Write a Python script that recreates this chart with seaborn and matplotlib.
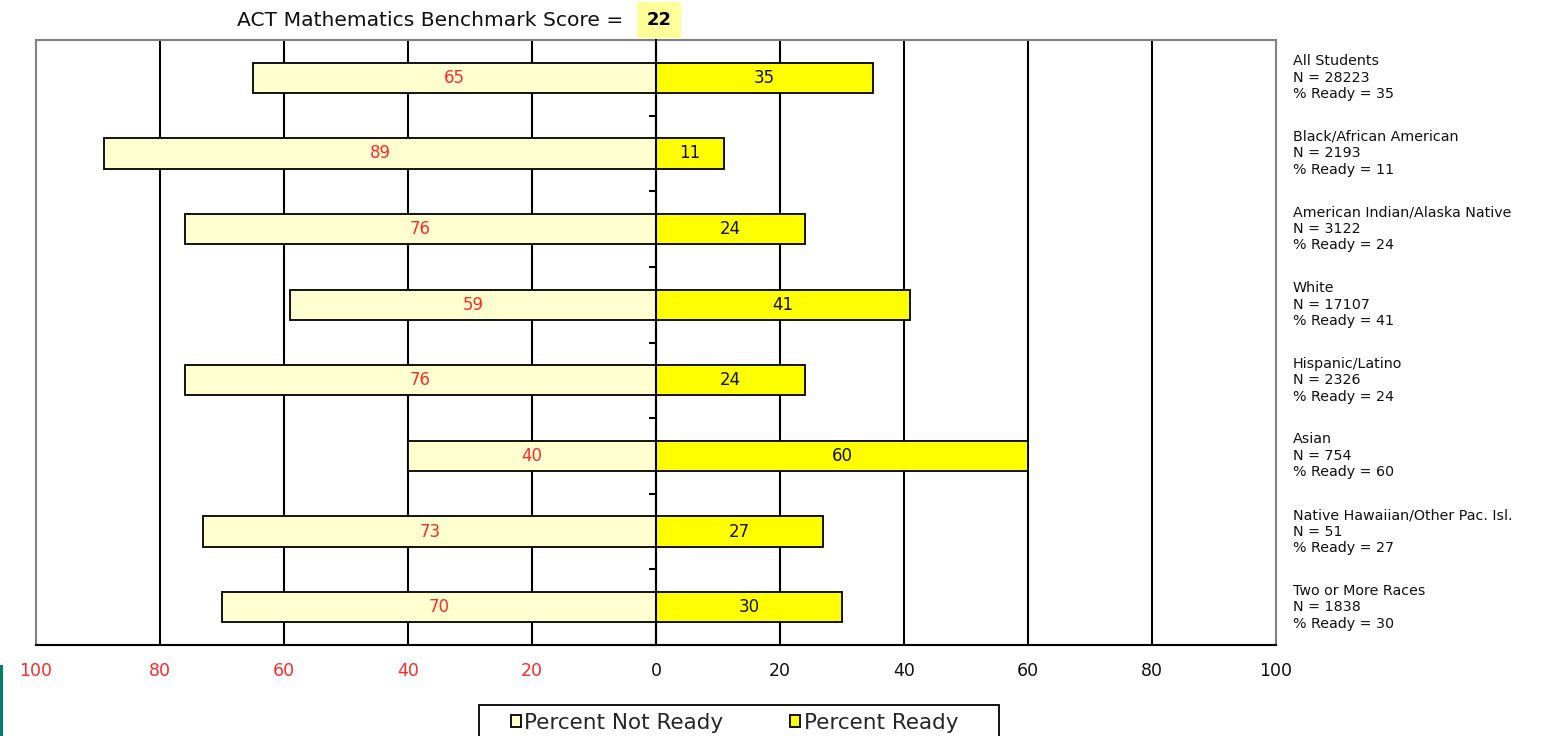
import numpy as np
import pandas as pd
import matplotlib
matplotlib.use("Agg")
import matplotlib.pyplot as plt
from matplotlib.patches import Rectangle, Patch
import seaborn as sns

groups = ["All Students", "Black/African American", "American Indian/Alaska Native",
          "White", "Hispanic/Latino", "Asian", "Native Hawaiian/Other Pac. Isl.",
          "Two or More Races"]
not_ready = [65, 89, 76, 59, 76, 40, 73, 70]
ready = [35, 11, 24, 41, 24, 60, 27, 30]
counts = [28223, 2193, 3122, 17107, 2326, 754, 51, 1838]
series_names = ["Percent Not Ready", "Percent Ready"]
benchmark = 22
x_ticks = [-100, -80, -60, -40, -20, 0, 20, 40, 60, 80, 100]

sns.set_style("white")
plt.rcParams["font.family"] = ["DejaVu Sans"]

df = pd.DataFrame({
    "group": groups * 2,
    "value": [-v for v in not_ready] + list(ready),
    "series": [series_names[0]] * len(groups) + [series_names[1]] * len(groups),
})

colors = {series_names[0]: "#FFFFCF", series_names[1]: "#FFFF00"}
red = "#FF2A2A"

fig = plt.figure(figsize=(15.62, 7.36), dpi=100)
ax = fig.add_axes([36 / 1562, 1 - 645 / 736, (1276 - 36) / 1562, (645 - 40) / 736])

sns.barplot(data=df, x="value", y="group", hue="series", orient="h", dodge=False,
            width=0.4, palette=colors, saturation=1, edgecolor="black", linewidth=1.3,
            legend=False, ax=ax)

ax.set_xlim(-100, 100)
ax.set_ylim(len(groups) - 0.5, -0.5)
ax.set_xlabel("")
ax.set_ylabel("")

# x axis
ax.set_xticks(x_ticks)
ax.set_xticklabels([str(abs(t)) for t in x_ticks], fontsize=12.5)
for t, lab in zip(x_ticks, ax.get_xticklabels()):
    lab.set_color(red if t < 0 else "#111111")
ax.tick_params(axis="x", direction="out", length=6, width=1.5, color="black", pad=6)

# vertical grid lines
ax.xaxis.grid(True, color="black", linewidth=1.5)
ax.set_axisbelow(True)
gl = ax.get_xgridlines()
gl[0].set_visible(False)
gl[-1].set_visible(False)

# center axis with ticks between categories
ax.spines["left"].set_position(("data", 0))
ax.spines["left"].set_color("black")
ax.spines["left"].set_linewidth(1.5)
ax.set_yticks(np.arange(-0.5, len(groups), 1.0))
ax.set_yticklabels([])
ax.tick_params(axis="y", direction="out", length=5, width=1.5, color="black", left=True)

ax.spines["bottom"].set_color("black")
ax.spines["bottom"].set_linewidth(1.5)
ax.spines["top"].set_visible(False)
ax.spines["right"].set_visible(False)
ax.add_patch(Rectangle((0, 0), 1, 1, transform=ax.transAxes, fill=False,
                       edgecolor="#808080", linewidth=1.5, clip_on=False, zorder=0.6))

# bar labels
ax.bar_label(ax.containers[0], labels=[str(v) for v in not_ready], label_type="center",
             color=red, fontsize=12)
ax.bar_label(ax.containers[1], labels=[str(v) for v in ready], label_type="center",
             color="#111111", fontsize=12)

# right-side group labels
trans = matplotlib.transforms.blended_transform_factory(ax.transAxes, ax.transData)
for i, (g, n, r) in enumerate(zip(groups, counts, ready)):
    ax.text(1.0137, i - 0.31, f"{g}\nN = {n}\n% Ready = {r}", transform=trans,
            ha="left", va="top", fontsize=10.3, linespacing=1.22, color="#111111")

# title
fig.text(237 / 1562, 1 - 20 / 736, "ACT Mathematics Benchmark Score =", ha="left",
         va="center", fontsize=14.6, color="#111111")
fig.text(659 / 1562, 1 - 20 / 736, str(benchmark), ha="center", va="center",
         fontsize=13, fontweight="bold", color="black",
         bbox=dict(boxstyle="square,pad=0.5", facecolor="#FFFF99", edgecolor="none"))

# legend
handles = [Patch(facecolor=colors[s], edgecolor="black", linewidth=1.3) for s in series_names]
leg = fig.legend(handles, series_names, ncol=2, loc="upper left",
                 bbox_to_anchor=(511 / 1562, 1 - 713 / 736), frameon=False,
                 fontsize=15.5, handlelength=0.47, handleheight=0.47,
                 handletextpad=0.15, columnspacing=3.1, borderpad=0, borderaxespad=0)
fig.add_artist(Rectangle((479 / 1562, -0.02), (999 - 479) / 1562, 0.02 + 31 / 736,
                         transform=fig.transFigure, fill=False, edgecolor="black",
                         linewidth=1.3))

# decorative left edge line
fig.add_artist(Rectangle((0, 0), 3 / 1562, 71 / 736, transform=fig.transFigure,
                         facecolor="#008066", edgecolor="none"))

fig.savefig("out.png", dpi=100)
